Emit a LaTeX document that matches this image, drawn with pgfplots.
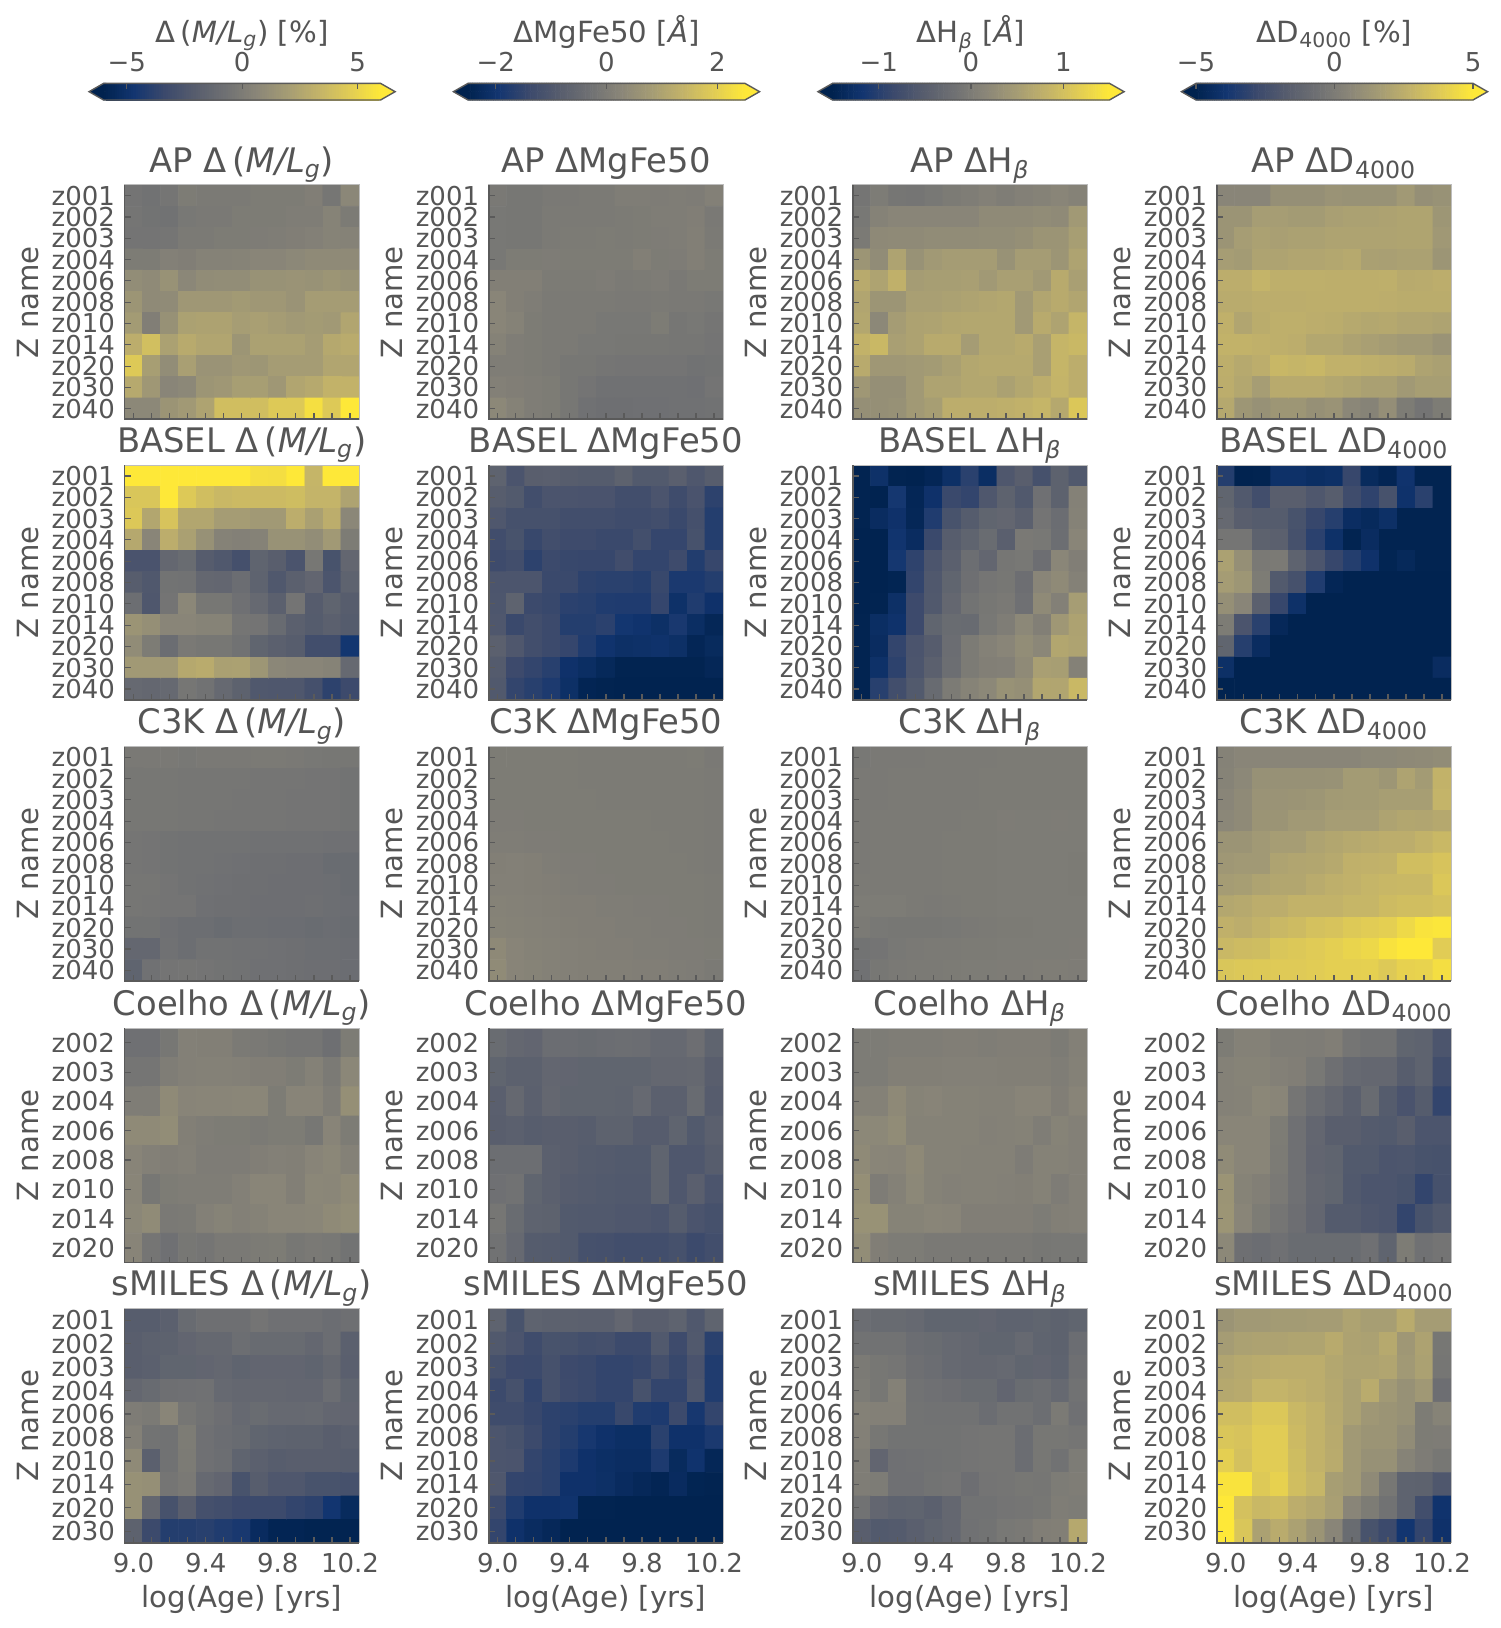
\documentclass[border=0pt]{standalone}
\usepackage{fontspec}
\setmainfont{DejaVu Sans}
\usepackage{pgfplots}
\pgfplotsset{compat=1.18}
\definecolor{txt}{HTML}{555555}
\definecolor{spinec}{HTML}{5A5A5A}
\definecolor{spinel}{HTML}{BDBDBD}
\pgfplotsset{
 colormap={civ}{HTML=(00224E) HTML=(123570) HTML=(3B496C) HTML=(575D6D) HTML=(707173) HTML=(8A8678) HTML=(A59C74) HTML=(C3B369) HTML=(E1CC55) HTML=(FEE838)},
 colormap name=civ,
 ylab11/.style={ymin=-0.5,ymax=10.5,ytick={0,...,10},yticklabels={z040,z030,z020,z014,z010,z008,z006,z004,z003,z002,z001}},
 ylab8/.style={ymin=-0.5,ymax=7.5,ytick={0,...,7},yticklabels={z020,z014,z010,z008,z006,z004,z003,z002}},
 ylab10/.style={ymin=-0.5,ymax=9.5,ytick={0,...,9},yticklabels={z030,z020,z014,z010,z008,z006,z004,z003,z002,z001}},
 bot/.style={xticklabels={9.0,9.4,9.8,10.2},xlabel={log(Age) [yrs]}},
 hm/.style={
  scale only axis,width=117.2pt,height=117.2pt,anchor=south west,
  xmin=8.95,xmax=10.25,
  xtick={9,9.4,9.8,10.2},minor xtick={9.1,9.2,9.3,9.5,9.6,9.7,9.9,10,10.1},
  xticklabels={},
  tick align=inside,xtick pos=lower,ytick pos=left,
  major tick length=3pt,minor tick length=3pt,
  every tick/.style={color=spinec,line width=.6pt},
  every minor tick/.style={color=spinec,line width=.6pt},
  axis line style={draw=spinel,line width=.5pt},
  axis on top,
  tick label style={text=txt},
  x tick label style={font=\fontsize{13}{13}\selectfont,anchor=base,yshift=-14.6pt},
  y tick label style={font=\fontsize{13}{13}\selectfont,anchor=east,inner xsep=0pt,xshift=-4.6pt},
  ylabel={Z name},
  every axis y label/.style={at={([xshift=-48.3pt]axis description cs:0,0.5)},rotate=90,anchor=center,font=\fontsize{14.6}{14.6}\selectfont,text=txt},
  every axis x label/.style={at={(axis description cs:0.5,0)},anchor=base,yshift=-32.3pt,font=\fontsize{14.6}{14.6}\selectfont,text=txt},
  title style={at={(axis description cs:0.5,1)},anchor=base,yshift=0.3pt,font=\fontsize{16.9}{16.9}\selectfont,text=txt},
  after end axis/.code={\draw[spinec,line width=.9pt] (axis description cs:0,1)--(axis description cs:0,0)--(axis description cs:1,0);},
 },
}
\newcommand\dML{Δ\,({\itshape M/L}\textsubscript{\itshape g})}
\newcommand\dMg{ΔMgFe50}
\newcommand\dH{ΔH\textsubscript{\itshape β}}
\newcommand\dD{ΔD\textsubscript{4000}}
% #1 left px, #2 bottom px, #3 rows, #4 half range of the colour scale, #5 title, #6 options, #7 readings in tenths of the half range
\newcommand\panel[7]{%
 \gdef\clist{}%
 \foreach \v [count=\i from 0] in {#7}{%
  \pgfmathtruncatemacro\cx{mod(\i,13)}%
  \pgfmathtruncatemacro\cy{#3-1-floor(\i/13)}%
  \pgfmathsetmacro\cxx{9+0.1*\cx}%
  \pgfmathsetmacro\m{\v*#4/10}%
  \xdef\clist{\clist (\cxx,\cy)[\m]}%
 }%
 \pgfmathsetmacro\px{#1*0.5}%
 \pgfmathsetmacro\py{(1628-#2)*0.5}%
 \edef\doplot{\noexpand\addplot[matrix plot*,mesh/cols=13,point meta=explicit] coordinates {\clist};}%
 \begin{axis}[hm,at={(\px pt,\py pt)},ylab#3,point meta min=-#4,point meta max=#4,title={#5},#6]
 \doplot
 \end{axis}%
}
% #1 left px, #2 half range, #3 tip x, #4 ticks, #5 tick labels, #6 label
\newcommand\cbar[6]{%
 \gdef\rlist{}%
 \foreach \yy in {0.25,0.75}{%
  \foreach \k in {0,...,119}{%
   \pgfmathsetmacro\xx{-#2+(\k+0.5)*#2/60}%
   \xdef\rlist{\rlist (\xx,\yy)[\xx]}%
  }%
 }%
 \pgfmathsetmacro\px{#1*0.5}%
 \edef\doplot{\noexpand\addplot[matrix plot*,mesh/cols=120,point meta=explicit] coordinates {\rlist};}%
 \begin{axis}[scale only axis,width=138.5pt,height=8.3pt,anchor=south west,at={(\px pt,764pt)},
  xmin=-#2,xmax=#2,ymin=0,ymax=1,ytick=\empty,xtick={#4},xticklabels={#5},
  point meta min=-#2,point meta max=#2,clip=false,
  xtick pos=upper,xticklabel pos=upper,tick align=inside,major tick length=3pt,
  every tick/.style={color=spinec,line width=.6pt},
  axis line style={draw=none},axis on top,
  x tick label style={font=\fontsize{13}{13}\selectfont,text=txt,anchor=base,yshift=6pt},
  xlabel={#6},
  every axis x label/.style={at={(axis description cs:0.5,1)},anchor=base,yshift=20.5pt,font=\fontsize{14.6}{14.6}\selectfont,text=txt},
 ]
 \doplot
 \addplot[fill=cividisLow,draw=none,mark=none] coordinates {(-#2,0)(-#3,0.5)(-#2,1)} --cycle;
 \addplot[fill=cividisHigh,draw=none,mark=none] coordinates {(#2,0)(#3,0.5)(#2,1)} --cycle;
 \addplot[draw=spinec,line width=.7pt,mark=none] coordinates {(-#2,0)(#2,0)(#3,0.5)(#2,1)(-#2,1)(-#3,0.5)} --cycle;
 \end{axis}%
}
\definecolor{cividisLow}{HTML}{00224E}
\definecolor{cividisHigh}{HTML}{FEE838}
\begin{document}
\begin{tikzpicture}[x=1pt,y=1pt]
\useasboundingbox (0,0) rectangle (750pt,814pt);
\cbar{103.6}{6}{6.63}{-5,0,5}{−5,0,5}{Δ\,({\itshape M/L}\textsubscript{\itshape g}) [\%]}
\cbar{468}{2.5}{2.763}{-2,0,2}{−2,0,2}{ΔMgFe50 [{\itshape Å}]}
\cbar{832.5}{1.5}{1.658}{-1,0,1}{−1,0,1}{ΔH\textsubscript{\itshape β} [{\itshape Å}]}
\cbar{1196}{5}{5.526}{-5,0,5}{−5,0,5}{ΔD\textsubscript{4000} [\%]}
% ---------- AP
\panel{124.6}{419.4}{11}{6}{AP \dML}{}{
-0.8,-1,-0.7,0,-0.2,-0.2,-0.2,0,0,0,0.3,-0.6,1.2,
-0.7,-0.9,-1,-0.4,-0.3,-0.3,0,0,0,0.2,0.2,0.8,-0.1,
-0.8,-0.8,-0.7,-0.2,-0.2,0,0,0.1,0.2,0.3,0.5,0.8,0.7,
0,0,0.5,0.3,0.7,0.7,0.8,1,1,1.3,1.5,1.5,1.5,
1.8,1.5,2.3,1.2,1.7,1.8,1.8,2.3,2.3,2.4,2.3,2.6,2.3,
2.6,1.5,1.6,2.8,2.8,2.8,3.1,2.8,2.8,2.4,3.3,3.3,3.3,
3.2,0.3,2.2,3.8,3.9,3.9,3.4,3.6,3.3,3,3.2,3,4.2,
5,6.6,3.8,4.7,4.2,4.2,2.6,3.8,3.8,3.8,3.3,4.5,4.8,
7.5,3.5,1.8,3.6,2.4,2.4,2.8,2.7,3.3,3.3,3.3,4.2,4.2,
4.6,2.8,1,1.3,2.6,2.8,3.5,3.5,2.8,4.2,4.6,5.5,5.5,
1.3,1.3,2.5,3,4,6.5,6.5,6.5,7.5,7.5,9.3,7.5,10}
\panel{488.7}{419.4}{11}{2.5}{AP \dMg}{}{
-0.3,-0.5,-0.5,-0.3,-0.3,-0.2,-0.2,0.2,0.2,0.1,0.2,0.1,0.5,
-0.4,-0.5,-0.5,-0.2,-0.2,-0.2,-0.2,-0.1,0,0.2,0.2,0.3,-0.3,
-0.4,-0.5,-0.5,-0.2,-0.1,-0.1,0,-0.1,0,0.1,0.2,0.4,-0.2,
-0.4,0,0,0.1,0,0,0,0,0.4,0,0.1,0.4,0,
0.4,0.4,0.4,-0.1,-0.1,-0.1,0.1,-0.2,-0.1,0.1,-0.3,0,0,
1,0.4,0.2,-0.2,-0.2,-0.2,-0.2,-0.3,-0.3,-0.2,-0.3,-0.3,-0.4,
1,0.7,0,-0.2,-0.2,-0.2,-0.4,-0.4,-0.4,0,-0.6,-0.4,-0.7,
0.7,0.2,0,-0.2,-0.2,-0.4,-0.4,-0.5,-0.5,-0.5,-0.6,-0.6,-0.8,
0.2,0.2,0,-0.2,-0.5,-0.5,-0.7,-0.8,-0.8,-0.8,-0.8,-1,-0.9,
0.5,0.3,0.2,0,-0.5,-0.8,-1.1,-1.1,-1.1,-1.1,-1.1,-1.2,-0.8,
1.3,0.7,0.2,0,-0.5,-1.1,-1.3,-1.3,-1.2,-1.2,-1.1,-1.1,-1}
\panel{852.7}{419.4}{11}{1.5}{AP \dH}{}{
-0.7,0,-0.6,-0.7,-0.4,-0.1,0.2,0.5,0.2,0.5,0.7,1,0.7,
-0.4,0.7,1,1,1,1,1,1.5,1.5,1.5,1.7,1.5,3,
-0.2,1.4,1.5,1.5,1.7,1.7,1.7,1.8,1.8,2,2.5,2.5,3.5,
2.6,1.7,4,2.3,3,3.3,3.3,3.3,2.3,3.3,3.3,2.6,4,
4.7,4,5.3,3.3,3.5,3.5,3.6,3,3.6,3.6,3,4.7,3.6,
4.2,2.6,2.6,3.6,3.6,3.8,4,4.2,4.4,3,4.2,4.7,4.2,
4.4,1.3,3.3,3.9,4,4.3,4.4,4.4,4.4,3,4.7,4,5.7,
5.5,6,3.6,3.9,4.7,4.7,3.3,4.4,4.4,4.7,3.6,5.7,6,
4.7,2.8,2.8,3,3.2,3.7,4.4,4.6,4.6,4.6,3.6,5.7,5,
2.8,2,2,3,4,4,4.4,4.4,3.8,4.4,5,5.6,5,
2,2,2.2,3,3.5,5,5,5,5.2,5.4,5.7,4.5,7.3}
\panel{1216.7}{419.4}{11}{5}{AP \dD}{}{
1,1,1,2,2,2,2.4,2.3,2.3,2.3,3,2,2.3,
2.5,2.5,3.4,3.4,3.2,3.2,3.6,3.8,3.8,3.9,4.1,4.1,2.7,
2.5,3.4,3.8,3.6,3.8,3.8,4,4,4,4,4.1,4.1,2.9,
3.4,3.2,4,4,4.2,4.2,4.4,4.6,3.7,3.6,3.8,3.8,2.6,
5,5,5.6,5.2,5.2,5.2,5.1,5.1,5.1,5.2,4.7,4.8,5,
4.8,4.8,5,5,5,5.1,5.1,5.1,5.1,5,4.9,4.9,4.9,
5.3,4.2,4.9,5.2,5.2,5,4.9,4.6,4.4,4.5,4.2,4.2,4,
5.5,5.5,5.3,5.2,5,4.4,4.4,3.9,3.6,3.3,3,3,2.4,
5.1,4.6,5,5.9,5.7,5.9,5.4,5.4,5.2,5,4.8,4,3.7,
5,4.4,3.4,4.7,4.7,4.7,4.4,4.1,3.7,3.7,3,3.5,3.5,
4.5,2.7,2.2,2.7,2.7,2.1,2.4,1.2,0.8,1.9,0,-0.8,0}
% ---------- BASEL
\panel{124.6}{699.7}{11}{6}{BASEL \dML}{}{
10,10,10,10,10,10,10,9.3,9.2,10,5.7,10,10,
7.2,7.2,10,7.5,6.5,6,6.2,6.2,6.2,6.4,5.6,5.6,4,
7.4,4.3,7,4.3,4.3,3.3,3.3,3,3,5,3.7,5,1.2,
4.5,1,5,3.7,2.2,0.7,0.5,0.7,2.3,2.3,1.8,3,0,
-4.4,-4.4,-2.2,-1.7,-3.4,-3.9,-4.8,-2.6,-3.2,-4.3,-0.5,-4.5,-2.3,
-3.3,-3.9,-0.9,-1,-2.2,-2.3,-1.6,-2.7,-3.9,-3,-2.4,-4.2,-2.7,
-1.5,-4,-0.8,1.2,-0.5,-0.5,-1.2,-2,-3,-0.8,-3.4,-2.6,-3.3,
2.5,2,1,1,0.8,0.8,-0.7,-0.8,-1.8,-3,-3.5,-3,-3.5,
1.7,0,-1.6,-0.3,-0.5,-0.5,-1,-2.5,-3,-3.3,-5,-5,-7.7,
3,3,3,4.5,4.8,3.7,3.8,2.7,1.2,1,1,0.8,-2,
-2,-2.2,-2,-0.6,-1,-2,-2.8,-3.9,-4,-4,-4.8,-6.3,-5.4}
\panel{488.7}{699.7}{11}{2.5}{BASEL \dMg}{}{
-2.7,-4.3,-3.2,-3.1,-3.3,-3.5,-3.5,-2.8,-3.7,-3.7,-3.1,-4,-3.3,
-3.3,-3.7,-5,-4.3,-4.3,-4.4,-4.4,-5,-5,-4.3,-5.2,-4.4,-6.3,
-4,-4.7,-4.7,-4.7,-5,-5,-5,-5.2,-5.2,-5,-5.6,-4.8,-6.8,
-5.1,-4.5,-5.7,-5,-5.3,-5.3,-5.6,-5.6,-4.9,-5.9,-5.9,-4.6,-6.8,
-5.3,-5,-6.3,-5.5,-5.7,-5.8,-5.8,-5.1,-6,-6,-5.3,-6.9,-5.8,
-4.2,-4.2,-4.2,-5.6,-5.6,-6.3,-6.5,-6.5,-6.7,-5.7,-7.3,-7.3,-6.8,
-4.1,-2.7,-5.5,-5.7,-6.4,-6.6,-7,-7.1,-7.1,-5.9,-8.3,-7,-8.2,
-4,-5.6,-5,-5.5,-6.8,-6.8,-6.4,-7.7,-8,-8.4,-7.4,-8.6,-9.4,
-3,-4,-5,-5.5,-5.9,-7,-8,-8.4,-8.3,-8.1,-8.4,-9.5,-9,
-3.6,-5.4,-6,-6.6,-8.2,-8.6,-9.2,-9.8,-9.8,-9.8,-9.8,-9.8,-9.4,
-3.8,-6,-6.6,-7.2,-8.4,-9.6,-9.8,-9.9,-9.9,-9.9,-9.9,-9.9,-9.9}
\panel{852.7}{699.7}{11}{1.5}{BASEL \dH}{}{
-9.8,-8.3,-9.8,-9.9,-9.5,-8.4,-6.5,-8.6,-4,-3.2,-4.7,-2.8,-3.8,
-9.8,-9.9,-7.6,-9.5,-8.2,-5.6,-6,-4,-2.8,-3.8,-1.2,-2.8,0.6,
-9.8,-8.8,-8.2,-9.4,-7,-4.5,-3.5,-2.5,-2.3,-3,-0.8,-1.6,0.7,
-9.9,-9.9,-7.9,-8.8,-5.6,-3.3,-2.6,-1.7,-3.1,-0.3,-0.4,-1.5,1,
-9.9,-9.9,-7.6,-6.2,-4.2,-3,-1.5,-2.3,-0.6,-0.4,-1.4,1.1,0.3,
-9.9,-9.9,-9.7,-6,-3.9,-2.5,-1.3,-0.7,-0.5,-1.4,1,1.5,0.6,
-9.9,-9.8,-8.4,-5.4,-3.8,-2.2,-0.9,-0.5,-0.3,-1.2,1.5,0.5,3.4,
-9.8,-8.6,-8.1,-5.4,-2.5,-1.7,-1.8,-0.4,0.2,1.3,0.4,2.8,3.9,
-9.8,-8.8,-6,-4.3,-3.4,-1.6,-0.1,0.6,1,1.8,1.2,4.3,4,
-9.8,-8.3,-6.3,-4.2,-3,-1.5,-0.1,0.4,0.5,1.5,3.6,3.5,0.6,
-9.8,-6.6,-5,-3.7,-1.8,-0.1,0.8,1.3,2.3,2,4.3,4.2,6}
\panel{1216.7}{699.7}{11}{5}{BASEL \dD}{}{
-6.8,-9.9,-9.8,-8.3,-8.3,-8.6,-8.4,-5.8,-9,-9.6,-8,-9.8,-9.8,
-2.5,-3.8,-5,-3.2,-3.2,-4,-3.3,-5.2,-6.2,-4.6,-8.1,-6.5,-9.8,
-2,-3.2,-3.5,-3.5,-4.5,-5.8,-6.7,-8.7,-9.1,-8.4,-9.8,-9.8,-9.8,
-0.7,-0.7,-2.8,-3,-4.7,-6.4,-8.3,-9.8,-8.8,-9.8,-9.8,-9.8,-9.8,
3.8,2,-0.3,-0.2,-2.7,-4.2,-5.8,-6.8,-8.2,-9.7,-9.2,-9.8,-9.8,
3.3,2.7,0,-3.7,-4.7,-7,-9.5,-9.9,-9.9,-9.9,-9.9,-9.9,-9.9,
2,1,-3,-5.8,-8.3,-9.9,-9.9,-9.9,-9.9,-9.9,-9.9,-9.9,-9.9,
0,-4.3,-6.5,-9.3,-9.9,-9.9,-9.9,-9.9,-9.9,-9.9,-9.9,-9.9,-9.9,
-2.5,-6.7,-8.8,-9.9,-9.9,-9.9,-9.9,-9.9,-9.9,-9.9,-9.9,-9.9,-9.9,
-8.4,-9.9,-9.9,-9.9,-9.9,-9.9,-9.9,-9.9,-9.9,-9.9,-9.9,-9.9,-8.8,
-9.9,-9.9,-9.9,-9.9,-9.9,-9.9,-9.9,-9.9,-9.9,-9.9,-9.9,-9.9,-9.9}
% ---------- C3K
\panel{124.6}{981}{11}{6}{C3K \dML}{}{
-0.3,-0.3,-0.3,-0.4,-0.3,-0.3,-0.3,-0.2,-0.2,-0.3,-0.4,-0.5,-0.5,
-0.5,-0.5,-0.5,-0.6,-0.6,-0.6,-0.6,-0.7,-0.7,-0.7,-0.8,-0.8,-0.9,
-0.5,-0.5,-0.5,-0.6,-0.6,-0.6,-0.7,-0.7,-0.7,-0.8,-0.8,-0.8,-0.9,
-0.5,-0.5,-0.5,-0.6,-0.6,-0.7,-0.7,-0.7,-0.7,-0.8,-0.8,-0.8,-0.9,
-0.7,-0.8,-0.9,-1,-1,-1,-1,-1.1,-1.1,-1.1,-1.1,-1.2,-1.2,
-0.7,-0.8,-0.9,-1,-1,-1.1,-1.2,-1.3,-1.3,-1.4,-1.4,-1.7,-1.7,
-0.6,-0.6,-0.8,-1,-1.1,-1.2,-1.3,-1.3,-1.4,-1.4,-1.4,-1.5,-1.7,
-0.6,-0.7,-0.8,-0.8,-1.2,-1.3,-1.3,-1.4,-1.4,-1.4,-1.3,-1.5,-1.6,
-0.9,-0.9,-1.2,-1.5,-1.5,-1.7,-1.5,-1.5,-1.6,-1.6,-1.7,-1.6,-1.7,
-2.2,-2.2,-1.1,-1.5,-1,-1,-1.1,-1.1,-1.2,-1.3,-1.5,-1.5,-1.6,
-2.6,-1.1,-0.8,-0.7,-0.8,-0.9,-1,-1.2,-1.2,-1.3,-1.4,-1.4,-1.6}
\panel{488.7}{981}{11}{2.5}{C3K \dMg}{}{
0,0,0,0,0,-0.1,-0.1,-0.1,-0.1,-0.1,-0.1,0,-0.3,
0,0,0,0,0,-0.1,-0.1,-0.1,-0.1,-0.1,-0.1,-0.1,-0.2,
0,0,0,0,0,0,-0.1,-0.1,-0.1,-0.1,-0.1,-0.1,-0.2,
0.1,0.1,0,0,0,0,0,0,0,-0.1,-0.1,-0.1,-0.2,
0.2,0.2,0.1,0.1,0,0,0,0,0,0,-0.1,-0.1,-0.2,
0.4,0.5,0.4,0.2,0.1,0.1,0,0,0,0,0,-0.1,-0.2,
0.5,0.5,0.4,0.3,0.2,0.1,0.1,0,0,0,0,0,-0.1,
0.7,0.6,0.5,0.4,0.3,0.3,0.2,0.2,0.1,0.1,0,0,-0.1,
0.8,0.7,0.6,0.5,0.4,0.3,0.3,0.2,0.2,0.1,0.1,0,-0.1,
1.4,0.9,0.7,0.6,0.5,0.4,0.3,0.3,0.2,0.2,0.1,0.1,0,
1.6,0.9,0.8,0.6,0.5,0.4,0.4,0.4,0.3,0.3,0.2,0.1,-0.2}
\panel{852.7}{981}{11}{1.5}{C3K \dH}{}{
-0.4,-0.3,-0.3,-0.3,-0.2,-0.2,-0.2,-0.2,-0.1,-0.1,-0.1,-0.1,-0.1,
-0.3,-0.3,-0.2,-0.2,-0.2,-0.2,-0.2,-0.1,-0.1,-0.1,-0.1,-0.1,-0.1,
-0.3,-0.3,-0.2,-0.2,-0.2,-0.2,-0.2,-0.1,-0.1,-0.1,-0.1,-0.1,-0.1,
-0.3,-0.2,-0.2,-0.2,-0.2,-0.2,-0.1,-0.1,0.1,0,0,0.1,0,
-0.3,-0.2,-0.2,-0.2,-0.2,-0.1,-0.1,-0.1,0,0,0,0,0,
-0.3,-0.2,-0.2,-0.2,-0.2,-0.1,-0.1,-0.1,0,0,0,0,-0.1,
-0.2,-0.2,-0.2,-0.2,-0.2,-0.1,-0.1,-0.1,0,0,0,0,-0.1,
0,0,0,-0.2,-0.3,-0.2,-0.1,-0.1,0,0,0,0,0,
-0.2,-0.4,-0.5,-0.5,-0.5,-0.4,-0.3,-0.2,-0.1,-0.1,0,0,0,
-0.9,-0.8,-0.4,-0.3,-0.2,-0.2,-0.1,-0.1,0,0,0,0,0.1,
-1.1,-0.5,-0.3,-0.2,-0.2,-0.1,0,0,0.1,0.1,0.2,0.2,0.1}
\panel{1216.7}{981}{11}{5}{C3K \dD}{}{
0.7,1,1,1,1,1,1,1,1.3,1.3,1.4,1.5,1.7,
0.8,1.3,2.2,2.2,2.2,2.2,2.3,3.2,3.2,2.7,4,3.2,5.5,
1,1.5,2.4,2.4,2.5,2.7,3.1,3.2,3.2,3.5,3.5,3.5,5.6,
1.2,1.5,2.5,2.5,3,3,3.4,3.4,3.4,4,4.3,4.2,4.5,
2.5,2.5,3,3.4,3.4,4,4.3,4.6,4.8,5,5,5.5,6,
2.8,3,3,4,4.2,4.3,4.6,5.3,5.4,5.5,6.5,6.5,7,
3.3,3.5,4,4.3,4.3,4.8,5.2,5.4,5.7,5.9,6,6,7.3,
4.4,4.6,5,5,5.5,5.5,5.5,5.8,5.8,6.3,6.5,6.5,6.8,
5.3,5,5.5,6,6.3,6.8,7,7.5,7.8,8,8.8,9.6,9.8,
6,6.3,6.4,7.2,7.4,7.7,8,8.4,8.7,9.5,10,10,7.8,
7.2,7.4,7.5,7.6,7.6,7.8,8,8,8.1,7.5,8.2,8.3,9.2}
% ---------- Coelho
\panel{124.6}{1262.6}{8}{6}{Coelho \dML}{}{
-1.2,-1.2,-0.5,0.5,0.4,0.4,-0.2,-0.3,-0.5,-0.7,-0.7,-1.3,0,
-0.7,-0.7,0.2,0.5,0.6,0.6,0.5,0.3,0.3,0,0.6,-0.2,1.2,
0.2,0.2,1.5,0.9,1,1,1.1,1.1,0,0.9,0.9,0.2,2,
1.5,1.5,1.8,0.4,0.2,0,0,-0.2,0,0,-0.5,0.9,0,
0.9,0.5,0.3,0.5,0.1,0.1,0.1,0.3,0.5,0.4,0.9,1.2,0.6,
1,-0.5,0,0.2,0.2,0.2,0.5,1,1,0.4,1.2,1.1,1.5,
1.2,1.6,-0.3,-0.2,0.5,0.8,0.5,0.7,1,1,1.1,1.5,1.8,
0.9,-0.7,-1.2,-0.5,-0.7,-0.3,-0.3,-0.1,0,-0.5,-0.3,-0.4,-0.9}
\panel{488.7}{1262.6}{8}{2.5}{Coelho \dMg}{}{
-1.7,-2.2,-2.4,-1.6,-1.6,-1.7,-1.6,-1.5,-1.6,-2,-2,-1.4,-2.6,
-2.5,-2.9,-2.9,-2.3,-2.4,-2.5,-2.5,-2.5,-2.5,-2.2,-2.2,-2.1,-3.2,
-3.1,-2.1,-3,-2.2,-2.5,-2.5,-2.5,-2.6,-2,-3,-3,-1.8,-3.4,
-3.2,-3,-3.3,-3.2,-3.2,-3.3,-2.8,-2.8,-3.4,-3.4,-2.6,-3.7,-3,
-1.5,-1.5,-1.5,-3,-3.2,-3.5,-3.6,-3.7,-3.7,-2.6,-4,-4,-3.3,
-1.2,-1,-2.5,-3,-3.4,-3.6,-3.7,-3.8,-3.8,-2.6,-4,-3.1,-4.2,
-0.6,-1.7,-2.7,-2.8,-3.7,-3.8,-3.8,-4,-4,-4.2,-3.5,-4.3,-4.7,
-1,-2,-3.5,-3.6,-3.7,-4.7,-4.8,-5,-5,-5,-4.7,-5.5,-5}
\panel{852.7}{1262.6}{8}{1.5}{Coelho \dH}{}{
0,0,0.2,0.2,0.2,0.3,0.3,0.2,0.3,0.3,0.3,-0.1,0.5,
0,0,0.4,0.4,0.4,0.5,0.5,0.5,0.4,0.4,0.4,0.2,0.6,
0.6,0.6,1.4,0.8,0.9,0.7,0.7,0.6,0.6,0.9,0.9,0.3,0.9,
1.3,1.3,1.7,0.7,0.7,0.7,0.7,0.5,0.6,0.7,0.2,0.8,0.5,
1.5,1,0.9,1.4,0.7,0.7,0.6,0.6,0.6,0.1,0.7,0.7,0.5,
2,0.1,0.6,1.3,0.7,0.5,0.6,0.6,0.5,0.4,0.7,0.1,0.5,
2.3,2.3,0.8,0.8,1,0.9,0.3,0.3,0.3,0.3,0,0.4,0.5,
1.8,0.3,0,0,-0.3,-0.3,-0.3,-0.3,-0.3,-0.3,-0.5,-0.4,-0.4}
\panel{1216.7}{1262.6}{8}{5}{Coelho \dD}{}{
0,0.6,0.6,0.2,0.2,0.1,0.3,-0.7,-1,-1,-2.5,-2.7,-4.2,
0.6,0.8,0.8,0.5,0.3,-0.4,-1.3,-2,-2.2,-2.2,-3.3,-2.7,-5,
0.6,0.7,1.2,1,-0.7,-1.6,-2.2,-3,-1.8,-3.5,-4.4,-3.5,-6,
1,1,1,0,-1.2,-2.3,-3.2,-3.2,-3.6,-3.7,-3.2,-4.2,-4.2,
1.6,1,1,-0.1,-1.2,-2.4,-2.6,-3.7,-3.7,-4.2,-4.1,-4.5,-4.6,
2.5,0.8,0.4,-0.3,-1.2,-2.2,-2.5,-3.8,-4.2,-4.2,-4.5,-6,-4.7,
2.6,1,0,-0.7,-1.4,-2.3,-3.6,-3.6,-4,-4.2,-6,-4.5,-3.8,
1.3,-1.3,-1.6,-1.2,-1.7,-1.7,-1.7,-1.7,-1.2,-2.6,0,-1.1,-0.8}
% ---------- sMILES
\panel{124.6}{1543}{10}{6}{sMILES \dML}{bot}{
-3.3,-3.3,-3,-1.8,-1.3,-1.3,-1.3,-0.8,-1.2,-1.2,-1.2,-1.6,-1.3,
-3.2,-2.9,-2.8,-2.4,-2.1,-2.1,-1.5,-1.8,-1.8,-1.8,-2.2,-1.6,-3,
-3.2,-3,-2.5,-2.5,-2.4,-2.2,-2.6,-2.4,-2.4,-2.4,-2.6,-2.1,-3.1,
-2.2,-1.8,-1.3,-1.2,-1.1,-2,-2.2,-2.2,-2.2,-2.3,-2.3,-1.6,-2.5,
0.1,-0.2,1,-0.6,-1,-1.4,-2,-1.7,-2,-2,-1.9,-2.3,-2.4,
0.5,-0.9,-1,0,-1.2,-1.6,-1.8,-2.5,-2.7,-2.8,-2.8,-3.2,-3,
1.5,-3,-1,-0.1,-1.2,-1.5,-2.6,-3,-3.3,-3.2,-3.2,-3.2,-3.3,
2.2,2,-0.7,-0.3,-2,-2.4,-4.5,-3.3,-4,-4,-4.5,-4.5,-4.7,
2.2,-2.2,-4.6,-3.2,-4.8,-5,-5.4,-5.5,-5.5,-6,-6.3,-7.8,-9,
-2.8,-5.5,-6.8,-6.8,-6.6,-7,-7.4,-8.9,-9.6,-9.6,-9.8,-9.8,-9.8}
\panel{488.7}{1543}{10}{2.5}{sMILES \dMg}{bot}{
-2.7,-4.5,-2.7,-2.9,-2.9,-3,-3,-2.3,-3.2,-3.2,-2.7,-3.9,-2.6,
-3.8,-4.3,-5.2,-4.5,-4.6,-4.9,-4.8,-5.5,-5.5,-3.8,-5.3,-3.8,-6.5,
-4.7,-5.4,-5.5,-4.7,-5.4,-5.6,-6,-6,-5.8,-4.8,-5.7,-4.4,-7,
-5.5,-4.7,-6,-4.7,-5.3,-5.6,-6,-6,-4.6,-6,-6,-4.1,-7,
-5.2,-5.2,-5.8,-6.3,-6.5,-6.8,-6.8,-5.7,-7,-7.2,-5.5,-7.5,-6,
-4.2,-4.6,-5.5,-6.3,-6.8,-7.5,-8.2,-8.5,-8.5,-6.5,-8.2,-8.2,-7.3,
-4.2,-4.3,-6,-6.5,-7.2,-8.2,-8.5,-8.7,-8.7,-7.2,-9,-8,-9.4,
-4,-6,-6.1,-6.5,-8.2,-8.2,-8.4,-8.9,-9.3,-9.6,-8.9,-9.7,-9.8,
-5.5,-7,-8.2,-8.2,-8,-9.8,-9.8,-9.9,-9.9,-9.9,-9.9,-9.9,-9.9,
-6,-8.2,-8.8,-9.3,-9.9,-9.9,-9.9,-9.9,-9.9,-9.9,-9.9,-9.9,-9.9}
\panel{852.7}{1543}{10}{1.5}{sMILES \dH}{bot}{
-1.6,-1.8,-1.8,-2,-2.5,-2.5,-2.5,-2.4,-2.7,-2.7,-2.5,-2.8,-2.5,
-1,-1,-1,-1.6,-1.7,-2,-2.2,-2.5,-2.5,-2,-2.6,-2.8,-1.6,
-0.2,-0.5,-0.7,-1.3,-1.6,-2,-2.2,-2.2,-2,-2.5,-2.4,-2.7,-1.3,
0,-0.5,0.6,-1,-1.2,-1.4,-1.7,-1.7,-2.4,-1.7,-1.5,-2,-1,
0.6,0.5,0.5,-0.9,-1,-1,-1,-1.6,-1,-1,-1.5,-0.2,-1.2,
0.5,-0.5,-0.9,-0.9,-0.9,-0.9,-0.8,-0.7,-0.7,-1.6,-0.5,-0.5,-0.7,
0.2,-2.4,-1.2,-1.1,-1,-0.9,-0.8,-0.7,-0.7,-1.6,-0.5,-1,0,
0.2,0,-1.2,-1.2,-0.9,-0.8,-1.4,-0.8,-0.7,-0.5,-0.6,0,0.2,
-1,-2.3,-2.7,-2.6,-3,-2.2,-1,-1,-0.8,-0.7,-0.5,0.2,0,
-3.2,-3.7,-3.6,-3.1,-2.6,-2.2,-1.1,-0.9,-0.4,-0.3,0.3,0.4,4.5}
\panel{1216.7}{1543}{10}{5}{sMILES \dD}{bot}{
2.5,3,3,3.2,3.2,3.3,3.3,4,3.5,3.5,4.8,3.3,3.3,
3.3,3.8,3.9,3.9,4.1,4.1,4.7,3.9,3.8,4.6,2.8,3.9,-0.5,
4.2,4.6,4.8,5,5,5,4.4,4,4,4.2,3,3.8,-0.6,
4.5,4.7,5.6,5.6,5.3,5,4.5,3.8,4.8,3,2.2,2.9,-1.4,
6.5,6.5,7.3,7.3,6,5.5,4.6,3.8,2.8,2.5,2.2,0,0.8,
7.2,7,7.8,7.8,6.2,5.5,4.7,3,2.5,2.5,1.7,0,0.1,
8,6.8,7.8,7.8,6.4,5.5,4.8,3,2.2,2.2,0.8,0.1,-0.5,
9.6,9.6,7.5,8.2,6.5,5.8,3.5,3,1.5,-0.5,-2.7,-2.8,-4,
10,6.8,6,6.3,5,4.5,3.6,1,0,-1,-2.7,-5,-8,
10,7.2,3.8,4.8,3.8,2.5,1,-1.7,-4.5,-5.5,-7.8,-6,-8.2}
\end{tikzpicture}
\end{document}
